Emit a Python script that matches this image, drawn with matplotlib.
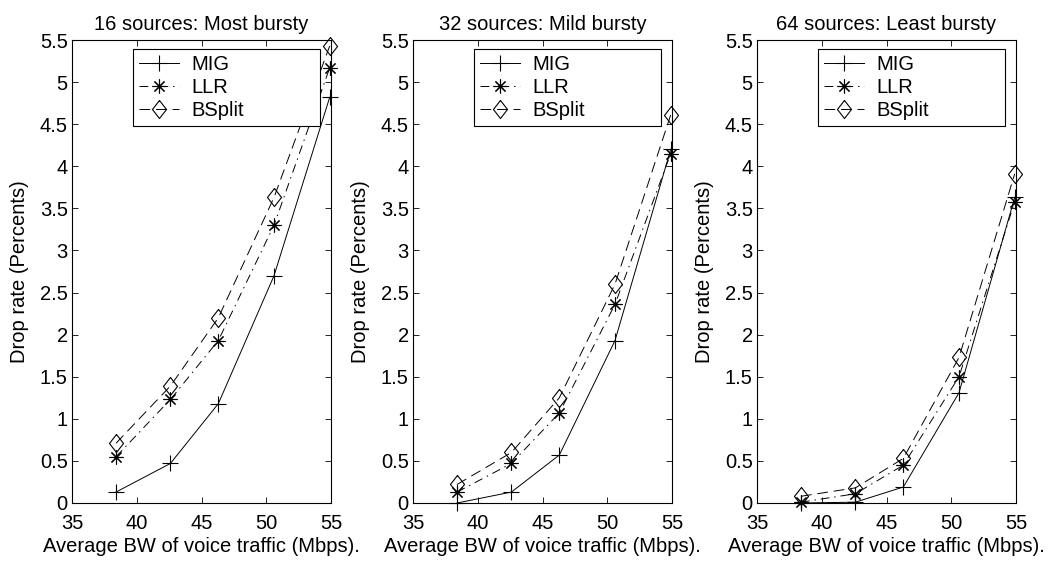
import numpy as np
import matplotlib
matplotlib.use('Agg')
import matplotlib.pyplot as plt

plt.rcParams['font.family'] = ['Liberation Sans', 'DejaVu Sans']
plt.rcParams['font.size'] = 14.5

# average voice bandwidth (Mbps)
bw = [38.4, 42.6, 46.3, 50.6, 54.9]

titles = ['16 sources: Most bursty', '32 sources: Mild bursty', '64 sources: Least bursty']

mig = [[0.13, 0.47, 1.18, 2.70, 4.82],
       [0.00, 0.13, 0.57, 1.93, 4.20],
       [0.00, 0.01, 0.19, 1.31, 3.63]]
llr = [[0.55, 1.23, 1.93, 3.30, 5.17],
       [0.13, 0.47, 1.07, 2.36, 4.15],
       [0.01, 0.11, 0.45, 1.50, 3.58]]
bsplit = [[0.71, 1.39, 2.20, 3.63, 5.43],
          [0.22, 0.60, 1.25, 2.60, 4.61],
          [0.08, 0.18, 0.53, 1.73, 3.91]]

xticks = [35, 40, 45, 50, 55]
yticks = [0, 0.5, 1, 1.5, 2, 2.5, 3, 3.5, 4, 4.5, 5, 5.5]
ytick_labels = ['0', '0.5', '1', '1.5', '2', '2.5', '3', '3.5', '4', '4.5', '5', '5.5']

# matlab-ish markers: 8 arm asterisk and a slightly tall diamond
star = (8, 2, 0)
diamond = [(0, 1), (0.78, 0), (0, -1), (-0.78, 0), (0, 1)]

fig = plt.figure(figsize=(10.6, 5.62), dpi=100)
W, H = 1060.0, 562.0
lefts = [72, 413, 757]
for i in range(3):
    ax = fig.add_axes([lefts[i] / W, 1 - 503 / H, 259 / W, 463 / H])
    ax.plot(bw, mig[i], color='k', linestyle='-', linewidth=0.7,
            marker='+', markersize=12, markeredgewidth=0.8, label='MIG', clip_on=False)
    ax.plot(bw, llr[i], color='k', linestyle=(0, (9, 5, 1.5, 5)), linewidth=0.7,
            marker=star, markersize=10, markeredgewidth=0.8, label='LLR', clip_on=False)
    ax.plot(bw, bsplit[i], color='k', linestyle=(0, (11, 6)), linewidth=0.7,
            marker=diamond, markersize=13, markeredgewidth=0.8, markerfacecolor='none',
            label='BSplit', clip_on=False)
    ax.set_xlim(35, 55)
    ax.set_ylim(0, 5.5)
    ax.set_xticks(xticks)
    ax.set_yticks(yticks)
    ax.set_yticklabels(ytick_labels)
    ax.tick_params(direction='in', top=True, right=True, length=4, width=0.6,
                   labelsize=14.5)
    ax.tick_params(axis='x', pad=8)
    ax.tick_params(axis='y', pad=3)
    for sp in ax.spines.values():
        sp.set_linewidth(0.8)
    ax.set_title(titles[i], fontsize=14.5, pad=7)
    ax.set_xlabel('Average BW of voice traffic (Mbps).', fontsize=14.5, labelpad=3)
    ax.set_ylabel('Drop rate (Percents)', fontsize=14.5, labelpad=8)
    # wide matlab style legend box, content sits at its left
    x0 = (133 - 72) / 259.0
    x1 = (320 - 72) / 259.0
    y1 = (503 - 49) / 463.0
    leg = ax.legend(loc='upper left', bbox_to_anchor=(x0, y1 - 0.17, x1 - x0, 0.17),
                    mode='expand', fontsize=14.5,
                    frameon=True, fancybox=False, edgecolor='k', framealpha=1,
                    borderpad=0.3, labelspacing=0.2, handlelength=2.0,
                    handletextpad=0.6, borderaxespad=0.0)
    leg.get_frame().set_linewidth(0.8)

fig.savefig('out.png', dpi=100)
